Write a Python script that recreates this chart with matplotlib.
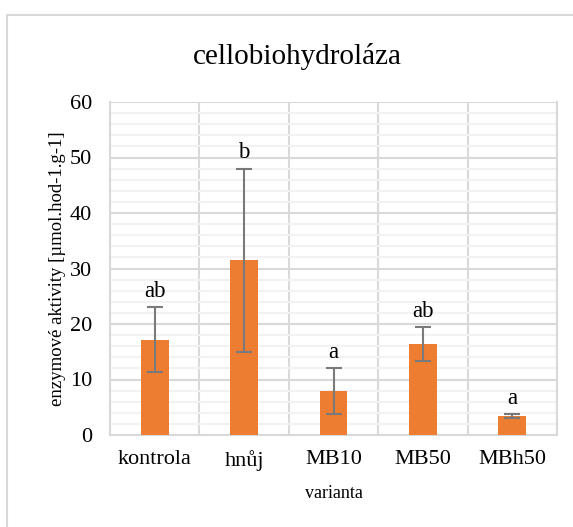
import matplotlib
matplotlib.use("Agg")
import matplotlib.pyplot as plt
from matplotlib.patches import Rectangle
from matplotlib.ticker import MultipleLocator

categories = ["kontrola", "hnůj", "MB10", "MB50", "MBh50"]
values = [17.2, 31.5, 7.9, 16.4, 3.4]
errors = [5.8, 16.5, 4.1, 3.0, 0.35]
letters = ["ab", "b", "a", "ab", "a"]

plt.rcParams['font.family'] = ['Liberation Serif', 'DejaVu Serif']

fig = plt.figure(figsize=(5.73, 5.27), dpi=100)
ax = fig.add_axes((110 / 573, 1 - 435 / 527, 447 / 573, 333 / 527))

# outer frame of the chart object (top and left edges visible)
fig.patches.append(Rectangle((7 / 573, -0.1), 1.2, 1 - 15 / 527 + 0.1,
                             transform=fig.transFigure, fill=False,
                             edgecolor='#d9d9d9', linewidth=1.5))

x = range(len(categories))
ax.bar(x, values, width=0.31, color='#ed7d31', zorder=3)
ax.errorbar(x, values, yerr=errors, fmt='none', ecolor='#7a7a7a',
            elinewidth=1.5, capsize=5.5, capthick=1.5, zorder=4)

for i, (v, e, t) in enumerate(zip(values, errors, letters)):
    ax.annotate(t, (i, v + e), xytext=(0, 4), textcoords='offset points',
                ha='center', va='bottom', fontsize=16.5)

ax.set_xlim(-0.5, len(categories) - 0.5)
ax.set_ylim(0, 60)
ax.yaxis.set_major_locator(MultipleLocator(10))
ax.yaxis.set_minor_locator(MultipleLocator(2))
ax.set_xticks(list(x))
ax.set_xticklabels(categories, fontsize=16)
ax.set_xticks([i + 0.5 for i in range(-1, len(categories))], minor=True)
ax.tick_params(axis='y', labelsize=16, length=0, pad=13, which='both')
ax.tick_params(axis='x', length=0, pad=11, which='both')

ax.grid(which='major', axis='y', color='#d9d9d9', linewidth=1.5, zorder=1)
ax.grid(which='minor', axis='y', color='#f2f2f2', linewidth=1.5, zorder=0)
ax.grid(which='minor', axis='x', color='#d9d9d9', linewidth=1.5, zorder=1)
for s in ax.spines.values():
    s.set_color('#d9d9d9')
    s.set_linewidth(1.5)
ax.spines['top'].set_visible(False)

fig.text(297 / 573, 1 - 57 / 527, "cellobiohydroláza", fontsize=21,
         ha='center', va='center')
ax.set_ylabel("enzymové aktivity [µmol.hod-1.g-1]", fontsize=13.5, labelpad=3)
ax.set_xlabel("varianta", fontsize=13, labelpad=10)

fig.savefig("out.png", dpi=100)
